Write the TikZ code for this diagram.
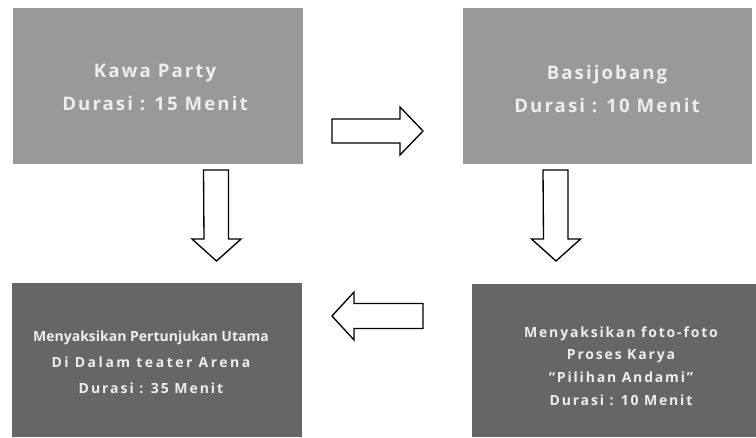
\documentclass[tikz,border=0pt]{standalone}
\usepackage{fontspec}
\setmainfont{Open Sans}
\newfontfamily\topfont[LetterSpace=11]{Open Sans}
\newfontfamily\blfontA[LetterSpace=0]{Open Sans}
\newfontfamily\blfontB[LetterSpace=18]{Open Sans}
\newfontfamily\blfontC[LetterSpace=14]{Open Sans}
\newfontfamily\brfont[LetterSpace=13]{Open Sans}
\definecolor{lightbox}{HTML}{999999}
\definecolor{darkbox}{HTML}{666666}
\definecolor{boxtext}{HTML}{EDEDED}
\begin{document}
\begin{tikzpicture}[x=0.75pt,y=-0.75pt,
  topbox/.style={fill=lightbox,draw=none,inner sep=0pt},
  botbox/.style={fill=darkbox,draw=none,inner sep=0pt},
  toptext/.style={text=boxtext,align=center,inner sep=0pt,font=\topfont\bfseries\fontsize{14}{24.75}\selectfont},
  bltext/.style={text=boxtext,align=center,inner sep=0pt,font=\bfseries\fontsize{10.5}{19.5}\selectfont},
  brtext/.style={text=boxtext,align=center,inner sep=0pt,font=\brfont\bfseries\fontsize{10.5}{17}\selectfont},
  blockarrow/.style={draw=black,line width=1pt,fill=white,line join=miter}]
\useasboundingbox (0,0) rectangle (756,437);
% boxes
\node[topbox,minimum width=290*0.75pt,minimum height=156*0.75pt] (A) at (158,86) {};
\node[topbox,minimum width=289*0.75pt,minimum height=156*0.75pt] (B) at (607.5,86) {};
\node[botbox,minimum width=290*0.75pt,minimum height=154*0.75pt] (D) at (157,360) {};
\node[botbox,minimum width=284*0.75pt,minimum height=153*0.75pt] (C) at (614,360.5) {};
% texts
\node[toptext] (At) at (155,87) {Kawa Party\\Durasi : 15 Menit};
\node[toptext] (Bt) at (607,89) {Basijobang\\Durasi : 10 Menit};
\node[bltext] (Dt) at (151,362) {{\blfontA\bfseries Menyaksikan Pertunjukan Utama}\\{\blfontB\bfseries Di Dalam teater Arena}\\{\blfontC\bfseries Durasi : 35 Menit}};
\node[brtext] (Ct) at (621,366) {Menyaksikan foto-foto\\Proses Karya\\“Pilihan Andami”\\Durasi : 10 Menit};
% block arrows
\coordinate (r1) at (332,131);
\draw[blockarrow] (r1) ++(0,-12) -- ++(68,0) -- ++(0,-12) -- ++(23,24) -- ++(-23,24) -- ++(0,-12) -- ++(-68,0) -- cycle;
\coordinate (d1) at (216,170);
\draw[blockarrow] (d1) ++(-12.5,0) -- ++(25,0) -- ++(0,69) -- ++(12.5,0) -- ++(-24.5,22) -- ++(-24.5,-22) -- ++(12,0) -- cycle;
\coordinate (d2) at (555.5,170);
\draw[blockarrow] (d2) ++(-12.5,0) -- ++(25,0) -- ++(0,69) -- ++(12.5,0) -- ++(-24.5,22) -- ++(-24.5,-22) -- ++(12,0) -- cycle;
\coordinate (l1) at (423,316);
\draw[blockarrow] (l1) ++(0,-12.5) -- ++(-69,0) -- ++(0,-11.5) -- ++(-22,24) -- ++(22,24) -- ++(0,-11.5) -- ++(69,0) -- cycle;
\end{tikzpicture}
\end{document}
